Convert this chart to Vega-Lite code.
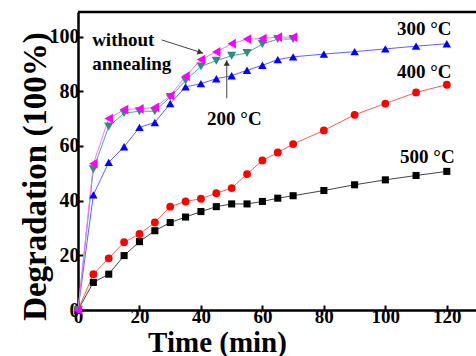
{
  "$schema": "https://vega.github.io/schema/vega-lite/v6.json",
  "width": 398,
  "height": 298,
  "autosize": {"type": "none"},
  "padding": {"left": 78, "top": 12, "right": 0, "bottom": 46},
  "background": "white",
  "config": {"view": {"stroke": null}, "font": "Liberation Serif"},
  "datasets": {
    "curves": [
      {"s": "500", "t": 0, "d": 0}, {"s": "500", "t": 5, "d": 10.1}, {"s": "500", "t": 10, "d": 13.1}, {"s": "500", "t": 15, "d": 19.9}, {"s": "500", "t": 20, "d": 25}, {"s": "500", "t": 25, "d": 29}, {"s": "500", "t": 30, "d": 32}, {"s": "500", "t": 35, "d": 34}, {"s": "500", "t": 40, "d": 36}, {"s": "500", "t": 45, "d": 37.8}, {"s": "500", "t": 50, "d": 38.8}, {"s": "500", "t": 55, "d": 38.8}, {"s": "500", "t": 60, "d": 39.7}, {"s": "500", "t": 65, "d": 40.9}, {"s": "500", "t": 70, "d": 41.8}, {"s": "500", "t": 80, "d": 43.7}, {"s": "500", "t": 90, "d": 45.8}, {"s": "500", "t": 100, "d": 47.6}, {"s": "500", "t": 110, "d": 49.2}, {"s": "500", "t": 120, "d": 50.7},
      {"s": "400", "t": 0, "d": 0}, {"s": "400", "t": 5, "d": 13.1}, {"s": "400", "t": 10, "d": 18.9}, {"s": "400", "t": 15, "d": 24.8}, {"s": "400", "t": 20, "d": 27.8}, {"s": "400", "t": 25, "d": 32}, {"s": "400", "t": 30, "d": 37.8}, {"s": "400", "t": 35, "d": 39.7}, {"s": "400", "t": 40, "d": 40.7}, {"s": "400", "t": 45, "d": 42.7}, {"s": "400", "t": 50, "d": 44.6}, {"s": "400", "t": 55, "d": 49.7}, {"s": "400", "t": 60, "d": 54.7}, {"s": "400", "t": 65, "d": 57.6}, {"s": "400", "t": 70, "d": 60.7}, {"s": "400", "t": 80, "d": 65.7}, {"s": "400", "t": 90, "d": 71.4}, {"s": "400", "t": 100, "d": 75.5}, {"s": "400", "t": 110, "d": 79.6}, {"s": "400", "t": 120, "d": 82.4},
      {"s": "300", "t": 0, "d": 0}, {"s": "300", "t": 5, "d": 42.1}, {"s": "300", "t": 10, "d": 54}, {"s": "300", "t": 15, "d": 59.7}, {"s": "300", "t": 20, "d": 66.8}, {"s": "300", "t": 25, "d": 68.6}, {"s": "300", "t": 30, "d": 75.5}, {"s": "300", "t": 35, "d": 81.6}, {"s": "300", "t": 40, "d": 82.8}, {"s": "300", "t": 45, "d": 84.6}, {"s": "300", "t": 50, "d": 85.7}, {"s": "300", "t": 55, "d": 87.7}, {"s": "300", "t": 60, "d": 89.5}, {"s": "300", "t": 65, "d": 91.6}, {"s": "300", "t": 70, "d": 92.6}, {"s": "300", "t": 80, "d": 93.6}, {"s": "300", "t": 90, "d": 94.5}, {"s": "300", "t": 100, "d": 95.5}, {"s": "300", "t": 110, "d": 96.5}, {"s": "300", "t": 120, "d": 97.4},
      {"s": "200", "t": 0, "d": 0}, {"s": "200", "t": 5, "d": 51.5}, {"s": "200", "t": 10, "d": 67.1}, {"s": "200", "t": 15, "d": 72}, {"s": "200", "t": 20, "d": 72.7}, {"s": "200", "t": 25, "d": 72.7}, {"s": "200", "t": 30, "d": 77.9}, {"s": "200", "t": 35, "d": 83.9}, {"s": "200", "t": 40, "d": 89.1}, {"s": "200", "t": 45, "d": 91.2}, {"s": "200", "t": 50, "d": 93}, {"s": "200", "t": 55, "d": 94}, {"s": "200", "t": 60, "d": 97.3}, {"s": "200", "t": 65, "d": 99.1}, {"s": "200", "t": 70, "d": 99.1},
      {"s": "none", "t": 0, "d": 0}, {"s": "none", "t": 5, "d": 53.5}, {"s": "none", "t": 10, "d": 70}, {"s": "none", "t": 15, "d": 73.3}, {"s": "none", "t": 20, "d": 73.6}, {"s": "none", "t": 25, "d": 74.1}, {"s": "none", "t": 30, "d": 78.4}, {"s": "none", "t": 35, "d": 85.5}, {"s": "none", "t": 40, "d": 91.6}, {"s": "none", "t": 45, "d": 94.4}, {"s": "none", "t": 50, "d": 97.4}, {"s": "none", "t": 55, "d": 99.1}, {"s": "none", "t": 60, "d": 99.3}, {"s": "none", "t": 65, "d": 99.8}, {"s": "none", "t": 70, "d": 99.8}
    ],
    "labels": [
      {"t": 103.8, "d": 100.6, "label": "300 °C"},
      {"t": 103.8, "d": 84.9, "label": "400 °C"},
      {"t": 104.8, "d": 53.8, "label": "500 °C"},
      {"t": 42.0, "d": 67.7, "label": "200 °C"},
      {"t": 4.6, "d": 96.7, "label": "without"},
      {"t": 4.6, "d": 87.8, "label": "annealing"}
    ],
    "arrows": [
      {"t": 27.2, "d": 98.8, "t2": 40.8, "d2": 93.9},
      {"t": 48.4, "d": 77.4, "t2": 48.4, "d2": 91.4}
    ]
  },
  "layer": [
    {
      "data": {"name": "curves"},
      "mark": {"type": "line", "strokeWidth": 1},
      "encoding": {
        "x": {
          "field": "t", "type": "quantitative",
          "scale": {"domain": [0, 129.5], "nice": false},
          "axis": {
            "values": [0, 10, 20, 30, 40, 50, 60, 70, 80, 90, 100, 110, 120],
            "labelExpr": "datum.value % 20 === 0 ? datum.label : ''",
            "tickSize": {"condition": {"test": "datum.value % 20 === 0", "value": -5}, "value": -3},
            "tickColor": "black", "tickWidth": 2,
            "domainColor": "black", "domainWidth": 2.5,
            "labelFont": "Liberation Serif", "labelFontWeight": "bold", "labelFontSize": 19, "labelColor": "black",
            "labelPadding": 2, "labelFlush": false, "grid": false,
            "title": "Time (min)", "titleFont": "Liberation Serif", "titleFontWeight": "bold", "titleFontSize": 29, "titleColor": "black",
            "titleX": 139, "titleY": 41, "titleBaseline": "alphabetic", "titleAlign": "center"
          }
        },
        "y": {
          "field": "d", "type": "quantitative",
          "scale": {"domain": [0, 109], "nice": false},
          "axis": {
            "values": [0, 10, 20, 30, 40, 50, 60, 70, 80, 90, 100],
            "labelExpr": "datum.value % 20 === 0 ? datum.label : ''",
            "tickSize": {"condition": {"test": "datum.value % 20 === 0", "value": -5}, "value": -3},
            "tickColor": "black", "tickWidth": 2,
            "domainColor": "black", "domainWidth": 2.5,
            "labelFont": "Liberation Serif", "labelFontWeight": "bold", "labelFontSize": 20, "labelColor": "black",
            "labelPadding": 4, "labelFlush": false, "grid": false,
            "title": "Degradation (100%)", "titleFont": "Liberation Serif", "titleFontWeight": "bold", "titleFontSize": 33, "titleColor": "black",
            "titleX": -33, "titleY": 164, "titleAngle": -90, "titleBaseline": "alphabetic", "titleAlign": "center"
          }
        },
        "detail": {"field": "s"},
        "color": {
          "field": "s", "type": "nominal", "legend": null,
          "scale": {"domain": ["500", "400", "300", "200", "none"], "range": ["#444444", "#ff5a5a", "#6060ff", "#4aa898", "#ff70ff"]}
        }
      }
    },
    {
      "data": {"name": "curves"},
      "mark": {"type": "point", "filled": true, "opacity": 1},
      "encoding": {
        "x": {"field": "t", "type": "quantitative"},
        "y": {"field": "d", "type": "quantitative"},
        "color": {
          "field": "s", "type": "nominal", "legend": null,
          "scale": {"domain": ["500", "400", "300", "200", "none"], "range": ["#000000", "#ff0000", "#0000ff", "#2e8b80", "#ff00ff"]}
        },
        "shape": {
          "field": "s", "type": "nominal", "legend": null,
          "scale": {"domain": ["500", "400", "300", "200", "none"], "range": ["square", "circle", "triangle-up", "triangle-down", "triangle-left"]}
        },
        "size": {
          "field": "s", "type": "nominal", "legend": null,
          "scale": {"domain": ["500", "400", "300", "200", "none"], "range": [50, 95, 100, 100, 110]}
        }
      }
    },
    {
      "data": {"name": "arrows"},
      "mark": {"type": "rule", "color": "#444444", "strokeWidth": 1},
      "encoding": {
        "x": {"field": "t", "type": "quantitative"},
        "y": {"field": "d", "type": "quantitative"},
        "x2": {"field": "t2"},
        "y2": {"field": "d2"}
      }
    },
    {
      "data": {"values": [{"t": 39.8, "d": 94.2}]},
      "mark": {"type": "point", "shape": "triangle-right", "angle": 18, "filled": true, "color": "#333333", "size": 40, "opacity": 1},
      "encoding": {
        "x": {"field": "t", "type": "quantitative"},
        "y": {"field": "d", "type": "quantitative"}
      }
    },
    {
      "data": {"values": [{"t": 48.4, "d": 90.3}]},
      "mark": {"type": "point", "shape": "triangle-up", "filled": true, "color": "#333333", "size": 40, "opacity": 1},
      "encoding": {
        "x": {"field": "t", "type": "quantitative"},
        "y": {"field": "d", "type": "quantitative"}
      }
    },
    {
      "data": {"name": "labels"},
      "mark": {"type": "text", "align": "left", "baseline": "alphabetic", "font": "Liberation Serif", "fontWeight": "bold", "fontSize": 19, "color": "black"},
      "encoding": {
        "x": {"field": "t", "type": "quantitative"},
        "y": {"field": "d", "type": "quantitative"},
        "text": {"field": "label"}
      }
    },
    {
      "data": {"values": [{"edge": "top"}]},
      "mark": {"type": "rule", "color": "black", "strokeWidth": 2.5},
      "encoding": {"y": {"datum": 109}}
    }
  ],
  "resolve": {"scale": {"color": "independent"}}
}
